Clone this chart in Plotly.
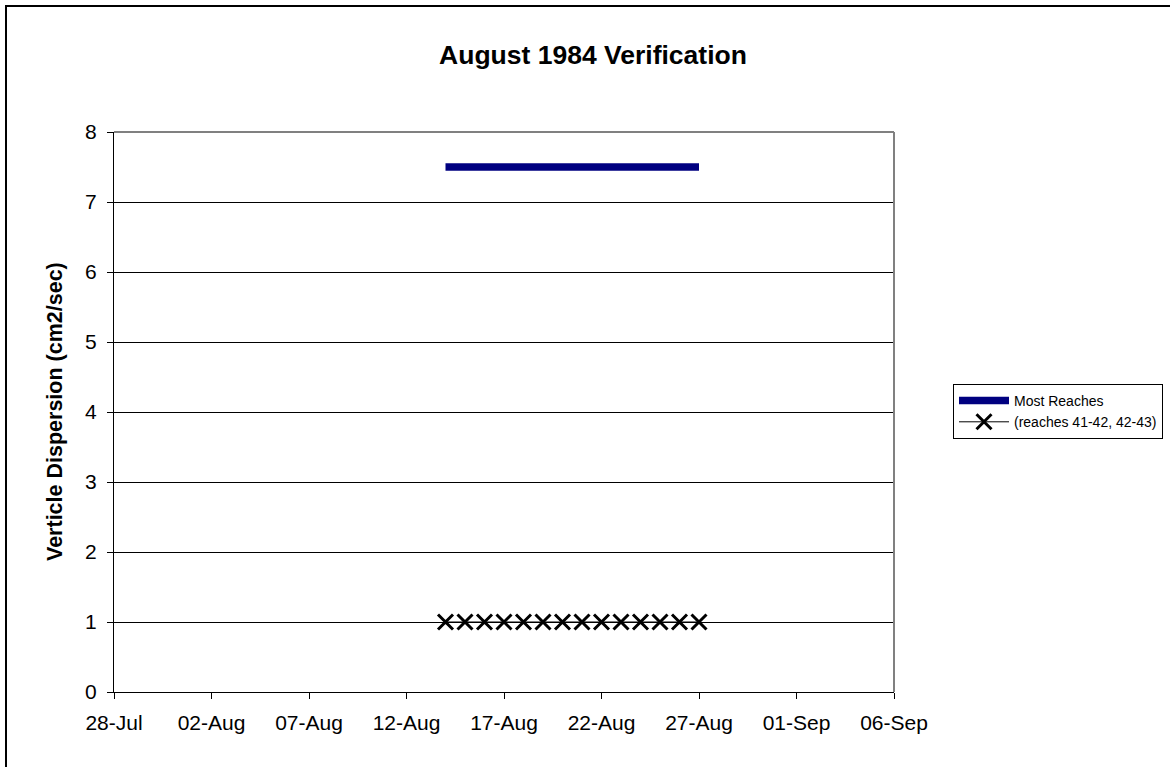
import plotly.graph_objects as go

dates = ["1984-08-14", "1984-08-15", "1984-08-16", "1984-08-17", "1984-08-18",
         "1984-08-19", "1984-08-20", "1984-08-21", "1984-08-22", "1984-08-23",
         "1984-08-24", "1984-08-25", "1984-08-26", "1984-08-27"]
most_reaches = [7.5, 7.5, 7.5, 7.5, 7.5, 7.5, 7.5, 7.5, 7.5, 7.5, 7.5, 7.5, 7.5, 7.5]
reaches_41_43 = [1, 1, 1, 1, 1, 1, 1, 1, 1, 1, 1, 1, 1, 1]
series_names = ["Most Reaches", "(reaches 41-42, 42-43)"]
y_ticks = [0, 1, 2, 3, 4, 5, 6, 7, 8]
x_range = ["1984-07-28", "1984-09-06"]

FONT = "Arial, Liberation Sans, sans-serif"

fig = go.Figure()
fig.add_trace(go.Scatter(
    x=dates, y=most_reaches, mode="lines", name=series_names[0],
    line=dict(color="#000080", width=7.5, shape="linear"),
))
fig.add_trace(go.Scatter(
    x=dates, y=reaches_41_43, mode="lines+markers", name=series_names[1],
    line=dict(color="black", width=1),
    marker=dict(symbol="x-thin", size=15, line=dict(color="black", width=3), color="black"),
))

L, R, T, B = 114, 894, 132, 692
W, H = 1170, 767
pw, ph = R - L, B - T

fig.update_layout(
    width=W, height=H,
    margin=dict(l=L, r=W - R, t=T, b=H - B, autoexpand=False),
    paper_bgcolor="white", plot_bgcolor="white",
    font=dict(family=FONT, color="black", size=21),
    title=dict(text="<b>August 1984 Verification</b>", x=593 / W, xref="container",
               xanchor="center", y=1 - 55 / H, yref="container", yanchor="middle",
               font=dict(size=26.5, family=FONT, color="black")),
    showlegend=True,
    legend=dict(x=(953 - L) / pw, y=(B - 384) / ph, xanchor="left", yanchor="top",
                bordercolor="black", borderwidth=1, bgcolor="white",
                font=dict(size=14, family=FONT, color="black"),
                itemwidth=50, tracegroupgap=0),
    xaxis=dict(type="date", range=x_range, tick0="1984-07-28", dtick=5 * 86400000,
               tickformat="%d-%b", ticks="outside", ticklen=6, tickcolor="black",
               showline=True, linecolor="black", linewidth=1, showgrid=False,
               zeroline=False, tickfont=dict(size=21, family=FONT, color="black"),
               ticklabelstandoff=6),
    yaxis=dict(range=[0, 8], tickvals=y_ticks, ticks="outside", ticklen=6, tickcolor="black",
               showline=True, linecolor="black", linewidth=1, showgrid=True,
               gridcolor="black", gridwidth=1, zeroline=False,
               tickfont=dict(size=21, family=FONT, color="black"), ticklabelstandoff=6),
    annotations=[dict(text="<b>Verticle Dispersion (cm2/sec)</b>", textangle=-90,
                      x=(55 - L) / pw, y=0.5, xref="paper", yref="paper",
                      xanchor="center", yanchor="middle", showarrow=False,
                      font=dict(size=21.5, family=FONT, color="black"))],
    shapes=[
        # plot area border (gray top and right)
        dict(type="line", xref="paper", yref="paper", x0=0, x1=1, y0=1, y1=1,
             line=dict(color="#808080", width=2), layer="above"),
        dict(type="line", xref="paper", yref="paper", x0=1, x1=1, y0=0, y1=1,
             line=dict(color="#808080", width=2), layer="above"),
        # outer chart border
        dict(type="rect", xref="paper", yref="paper",
             x0=(6 - L) / pw, x1=1.6, y0=-0.5, y1=(B - 6) / ph,
             line=dict(color="black", width=2), fillcolor="rgba(0,0,0,0)", layer="above"),
    ],
)

fig.write_html("out.html", config={"displayModeBar": False},
               post_script="document.body.style.margin='0';")
